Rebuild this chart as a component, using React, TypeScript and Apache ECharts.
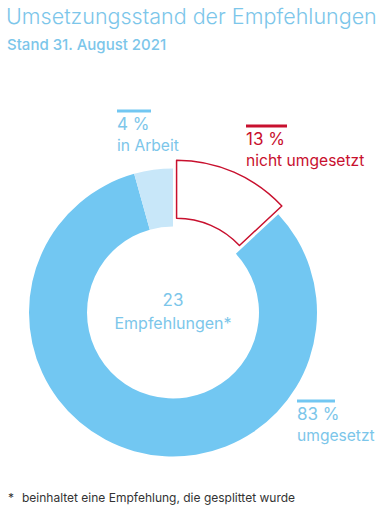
import React, { useEffect, useRef } from "react";
import * as echarts from "echarts";

const categories = ["nicht umgesetzt", "umgesetzt", "in Arbeit"];
const counts = [3, 19, 1];
const percentLabels = ["13 %", "83 %", "4 %"];
const total = 23;

const BLUE = "#72C7F2";
const LIGHT = "#C8E7F9";
const RED = "#C8102E";
const TEXT_BLUE = "#7CC6EA";
const FONT = "Inter, 'Liberation Sans', sans-serif";

export default function App() {
  const ref = useRef<HTMLDivElement>(null);
  useEffect(() => {
    document.body.style.margin = "0";
    const chart = echarts.init(ref.current!, null, { renderer: "svg" });
    const colors = ["#FFFFFF", BLUE, LIGHT];
    const labelPos = [
      { x: 246, y: 126, w: 41, color: RED },
      { x: 297, y: 401, w: 38, color: TEXT_BLUE },
      { x: 117, y: 111, w: 34, color: TEXT_BLUE },
    ];
    const labelGraphics: any[] = [];
    categories.forEach((c, i) => {
      const p = labelPos[i];
      labelGraphics.push({
        type: "rect",
        shape: { x: p.x, y: p.y - 1.5, width: p.w, height: 3 },
        style: { fill: i === 0 ? RED : BLUE },
      });
      labelGraphics.push({
        type: "text",
        x: p.x,
        y: p.y + 4,
        style: { text: percentLabels[i], fill: p.color, font: `17px ${FONT}` },
      });
      labelGraphics.push({
        type: "text",
        x: p.x,
        y: p.y + 26,
        style: { text: c, fill: p.color, font: `15.6px ${FONT}` },
      });
    });
    chart.setOption({
      animation: false,
      graphic: [
        {
          type: "text",
          x: 6,
          y: 5,
          style: {
            text: "Umsetzungsstand der Empfehlungen",
            fill: TEXT_BLUE,
            font: `300 21.5px ${FONT}`,
          },
        },
        {
          type: "text",
          x: 7,
          y: 37,
          style: {
            text: "Stand 31. August 2021",
            fill: TEXT_BLUE,
            font: `500 15px ${FONT}`,
          },
        },
        {
          type: "text",
          x: 173,
          y: 300,
          style: {
            text: String(total),
            fill: TEXT_BLUE,
            font: `17px ${FONT}`,
            align: "center",
            verticalAlign: "middle",
          },
        },
        {
          type: "text",
          x: 173,
          y: 323,
          style: {
            text: "Empfehlungen*",
            fill: TEXT_BLUE,
            font: `16px ${FONT}`,
            align: "center",
            verticalAlign: "middle",
          },
        },
        {
          type: "text",
          x: 8,
          y: 491,
          style: { text: "*", fill: "#333", font: `12px ${FONT}` },
        },
        {
          type: "text",
          x: 22,
          y: 491,
          style: {
            text: "beinhaltet eine Empfehlung, die gesplittet wurde",
            fill: "#333",
            font: `12px ${FONT}`,
          },
        },
        ...labelGraphics,
      ],
      series: [
        {
          type: "pie",
          center: [173, 312.5],
          radius: [86, 144],
          startAngle: 90,
          clockwise: true,
          selectedMode: "single",
          selectedOffset: 9,
          silent: true,
          label: { show: false },
          labelLine: { show: false },
          emphasis: { disabled: true },
          data: categories.map((c, i) => ({
            name: c,
            value: counts[i],
            selected: i === 0,
            itemStyle:
              i === 0
                ? { color: "#FFFFFF", borderColor: RED, borderWidth: 1.5 }
                : { color: colors[i], borderWidth: 0 },
          })),
        },
      ],
    });
    return () => chart.dispose();
  }, []);
  return <div ref={ref} style={{ width: 382, height: 513 }} />;
}
